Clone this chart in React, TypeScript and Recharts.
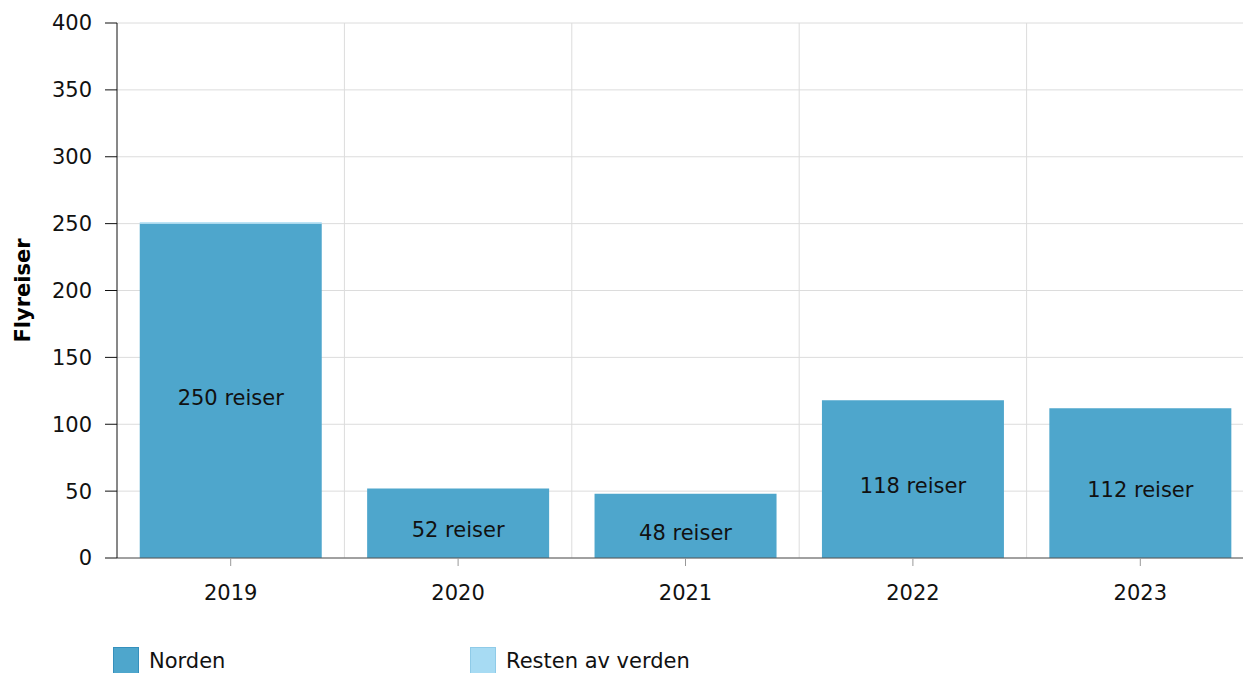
import React from 'react'
import { BarChart, Bar, XAxis, YAxis, CartesianGrid, Legend, LabelList } from 'recharts'

const years = ['2019', '2020', '2021', '2022', '2023']
const norden = [250, 52, 48, 118, 112]
const restenAvVerden = [1, 0, 0, 0, 0]
const yTicks = [0, 50, 100, 150, 200, 250, 300, 350, 400]

const data = years.map((y, i) => ({ year: y, norden: norden[i], resten: restenAvVerden[i] }))

const FONT = '"DejaVu Sans", Verdana, sans-serif'
const FS = 21

const InsideLabel = (props: any) => {
  const { x, y, width, height, value } = props
  return (
    <text x={x + width / 2} y={y + height / 2 + 8} textAnchor="middle" dominantBaseline="middle" fontSize={FS} fill="#111" fontFamily={FONT}>
      {value} reiser
    </text>
  )
}

const LegendContent = () => (
  <div style={{ display: 'flex', fontFamily: FONT, fontSize: FS, color: '#111' }}>
    <div style={{ display: 'flex', alignItems: 'center', width: 357 }}>
      <span style={{ width: 26, height: 28, background: '#4ea6cc', border: '1px solid #3590bd', boxSizing: 'border-box', marginRight: 10, display: 'inline-block' }} />
      Norden
    </div>
    <div style={{ display: 'flex', alignItems: 'center' }}>
      <span style={{ width: 26, height: 28, background: '#a7dbf3', border: '1px solid #8fcbe8', boxSizing: 'border-box', marginRight: 10, display: 'inline-block' }} />
      Resten av verden
    </div>
  </div>
)

export default function App() {
  return (
    <div style={{ position: 'absolute', left: 0, top: 0, width: 1243, height: 673, overflow: 'hidden', background: '#fff' }}>
      <BarChart width={1254} height={673} data={data} margin={{ top: 23, right: 0, left: 0, bottom: 0 }} barCategoryGap="10%">
        <CartesianGrid
          stroke="#dcdcdc"
          verticalCoordinatesGenerator={({ offset }: any) =>
            years.slice(1).map((_, i) => offset.left + ((i + 1) * offset.width) / years.length)
          }
        />
        <XAxis
          dataKey="year"
          height={85}
          tick={{ fontSize: FS, fill: '#111', fontFamily: FONT }}
          tickMargin={19}
          axisLine={{ stroke: '#555' }}
          tickLine={{ stroke: '#999' }}
          tickSize={8}
        />
        <YAxis
          width={117}
          domain={[0, 400]}
          ticks={yTicks}
          interval={0}
          tick={{ fontSize: FS, fill: '#111', fontFamily: FONT }}
          axisLine={{ stroke: '#111' }}
          tickLine={{ stroke: '#111' }}
          tickSize={12}
          tickMargin={13}
          label={{ value: 'Flyreiser', angle: -90, position: 'insideLeft', dx: 18, style: { fontSize: FS, fontWeight: 'bold', fill: '#000', fontFamily: FONT, textAnchor: 'middle' } }}
        />
        <Legend verticalAlign="bottom" align="left" wrapperStyle={{ left: 113, bottom: -4, height: 30 }} content={<LegendContent />} />
        <Bar dataKey="norden" stackId="a" fill="#4ea6cc" isAnimationActive={false}>
          <LabelList dataKey="norden" content={<InsideLabel />} />
        </Bar>
        <Bar dataKey="resten" stackId="a" fill="#a7dbf3" isAnimationActive={false} />
      </BarChart>
    </div>
  )
}
